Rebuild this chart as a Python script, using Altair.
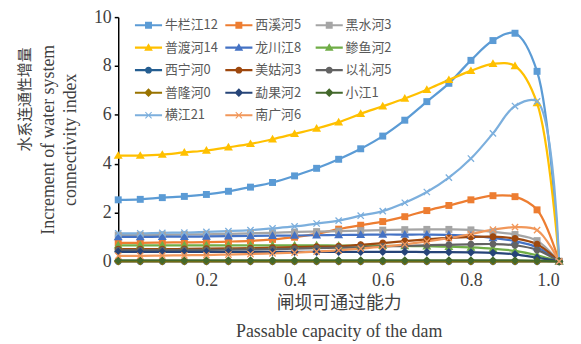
import altair as alt
import pandas as pd

# ---------------- data ----------------
x_vals = [0.0, 0.05, 0.1, 0.15, 0.2, 0.25, 0.3, 0.35, 0.4, 0.45, 0.5,
          0.55, 0.6, 0.65, 0.7, 0.75, 0.8, 0.85, 0.9, 0.95, 1.0]

series_names = ["牛栏江12", "西溪河5", "黑水河3", "普渡河14", "龙川江8", "鲹鱼河2",
                "西宁河0", "美姑河3", "以礼河5", "普隆河0", "勐果河2", "小江1",
                "横江21", "南广河6"]

niulanjiang = [2.52, 2.54, 2.61, 2.66, 2.74, 2.87, 3.04, 3.23, 3.50, 3.81, 4.18,
               4.61, 5.13, 5.78, 6.54, 7.29, 8.23, 9.04, 9.34, 7.78, 0.0]
xixihe = [0.76, 0.76, 0.77, 0.78, 0.79, 0.81, 0.84, 0.90, 0.99, 1.13, 1.32,
          1.48, 1.63, 1.83, 2.08, 2.29, 2.52, 2.69, 2.65, 2.11, 0.0]
heishuihe = [1.08, 1.08, 1.09, 1.10, 1.11, 1.13, 1.15, 1.17, 1.20, 1.22, 1.24,
             1.26, 1.28, 1.30, 1.31, 1.31, 1.29, 1.21, 1.10, 0.85, 0.0]
puduhe = [4.33, 4.33, 4.37, 4.46, 4.54, 4.67, 4.81, 5.00, 5.22, 5.44, 5.70,
          6.04, 6.35, 6.67, 7.03, 7.43, 7.80, 8.09, 8.00, 6.48, 0.0]
longchuanjiang = [1.00, 1.00, 1.01, 1.01, 1.02, 1.03, 1.04, 1.05, 1.06, 1.07, 1.08,
                  1.09, 1.10, 1.10, 1.10, 1.09, 1.05, 0.96, 0.83, 0.58, 0.0]
shenyuhe = [0.66, 0.66, 0.66, 0.66, 0.66, 0.66, 0.66, 0.66, 0.66, 0.66, 0.65,
            0.65, 0.64, 0.63, 0.62, 0.60, 0.57, 0.52, 0.43, 0.25, 0.0]
xininghe = [0.0] * 21
meiguhe = [0.50, 0.50, 0.50, 0.51, 0.52, 0.53, 0.54, 0.56, 0.58, 0.60, 0.62,
           0.68, 0.75, 0.83, 0.90, 0.96, 1.00, 1.01, 0.94, 0.70, 0.0]
yilihe = [0.46, 0.46, 0.46, 0.47, 0.47, 0.48, 0.49, 0.50, 0.52, 0.54, 0.56,
          0.58, 0.61, 0.63, 0.66, 0.68, 0.70, 0.71, 0.66, 0.47, 0.0]
punonghe = [0.0] * 21
mengguohe = [0.39, 0.39, 0.39, 0.39, 0.39, 0.39, 0.39, 0.39, 0.39, 0.39, 0.39,
             0.39, 0.39, 0.39, 0.38, 0.38, 0.37, 0.35, 0.29, 0.15, 0.0]
xiaojiang = [0.04, 0.04, 0.04, 0.04, 0.04, 0.04, 0.04, 0.04, 0.04, 0.04, 0.04,
             0.04, 0.04, 0.04, 0.04, 0.04, 0.04, 0.04, 0.04, 0.03, 0.0]
hengjiang = [1.15, 1.15, 1.17, 1.18, 1.21, 1.24, 1.28, 1.35, 1.43, 1.55, 1.67,
             1.87, 2.06, 2.40, 2.84, 3.43, 4.21, 5.24, 6.36, 6.55, 0.0]
nanguanghe = [0.23, 0.23, 0.24, 0.25, 0.26, 0.28, 0.30, 0.33, 0.36, 0.40, 0.45,
              0.52, 0.60, 0.70, 0.82, 0.95, 1.12, 1.30, 1.40, 1.28, 0.0]

series_values = [niulanjiang, xixihe, heishuihe, puduhe, longchuanjiang, shenyuhe,
                 xininghe, meiguhe, yilihe, punonghe, mengguohe, xiaojiang,
                 hengjiang, nanguanghe]

colors = ["#5B9BD5", "#ED7D31", "#A5A5A5", "#FFC000", "#4472C4", "#70AD47",
          "#255E91", "#9E480E", "#636363", "#997300", "#264478", "#43682B",
          "#7CAFDD", "#F1975A"]
marker_kind = ["square", "square", "square", "triangle", "triangle", "triangle",
               "circle", "circle", "circle", "diamond", "diamond", "diamond",
               "x", "x"]

x_ticks = [0.2, 0.4, 0.6, 0.8, 1.0]
y_ticks = [0, 2, 4, 6, 8, 10]

y_title_cn = "水系连通性增量"
y_title_en = ["Increment of water system", "connectivity index"]
x_title = ["闸坝可通过能力", "Passable capacity of the dam"]

rows = []
for name, vals in zip(series_names, series_values):
    for xv, yv in zip(x_vals, vals):
        rows.append({"series": name, "x": xv, "y": yv})
df = pd.DataFrame(rows)

# ---------------- marker shapes (all drawn clockwise) ----------------
P_SQUARE = "M-1,-1H1V1H-1Z"
P_TRI = "M0,-1.25L1.25,0.9H-1.25Z"
P_CIRCLE = "M-1,0A1,1 0 1,1 1,0A1,1 0 1,1 -1,0Z"
P_DIAMOND = "M0,-1.25L1.25,0L0,1.25L-1.25,0Z"
P_X_FILL = ("M-1,-0.8L-0.8,-1L0,-0.2L0.8,-1L1,-0.8L0.2,0L1,0.8L0.8,1"
            "L0,0.2L-0.8,1L-1,0.8L-0.2,0Z")
P_X_STROKE = "M-1,-1L1,1M-1,1L1,-1"
P_LINE = "M-3.9,-0.3H3.9V0.3H-3.9Z"
kind_path = {"square": P_SQUARE, "triangle": P_TRI, "circle": P_CIRCLE,
             "diamond": P_DIAMOND, "x": P_X_FILL}
legend_paths = [P_LINE + kind_path[k] for k in marker_kind]

serif = "Liberation Serif, Noto Sans CJK SC"
text_col = "#404040"

legend_obj = alt.Legend(
    title=None, orient="none", legendX=24, legendY=1.5, columns=3,
    direction="horizontal",
    columnPadding=3, rowPadding=7.7, gridAlign="all", symbolSize=49,
    labelFont="Noto Sans CJK SC", labelFontSize=13, labelColor="#595959",
    labelOffset=10, padding=0, symbolOpacity=1, labelLimit=200,
)

x_enc = alt.X("x:Q", scale=alt.Scale(domain=[0, 1], nice=False),
              axis=alt.Axis(values=x_ticks, format=".1f", grid=False, domain=False,
                            ticks=False, tickSize=0, labelPadding=10,
                            labelFont="Liberation Serif", labelFontSize=18,
                            labelColor=text_col,
                            title=x_title,
                            titleFont=serif, titleFontSize=18, titleFontWeight="normal",
                            titleColor=text_col, titleLineHeight=29, titlePadding=5))
y_enc = alt.Y("y:Q", scale=alt.Scale(domain=[0, 10], nice=False),
              axis=alt.Axis(values=y_ticks, grid=False, domain=True, domainColor="#000000",
                            domainWidth=1.5, ticks=True, tickColor="#000000", tickWidth=1.5,
                            tickSize=4, labelPadding=3, labelFont="Liberation Serif",
                            labelFontSize=18, labelColor=text_col,
                            title=y_title_en,
                            titleFont="Liberation Serif", titleFontSize=18,
                            titleFontWeight="normal",
                            titleColor=text_col, titleLineHeight=22, titlePadding=14))

color_scale = alt.Scale(domain=series_names, range=colors)

base = alt.Chart(df)

lines = base.mark_line(interpolate="catmull-rom", strokeWidth=2.25).encode(
    x=x_enc, y=y_enc,
    color=alt.Color("series:N", scale=color_scale, legend=None),
)

layers = [lines]
for kind, size in [("square", 49), ("triangle", 52), ("circle", 50), ("diamond", 46)]:
    names = [n for n, k in zip(series_names, marker_kind) if k == kind]
    layers.append(
        base.transform_filter(alt.FieldOneOfPredicate(field="series", oneOf=names))
        .mark_point(filled=True, shape=kind_path[kind], size=size, opacity=1)
        .encode(x="x:Q", y="y:Q",
                color=alt.Color("series:N", scale=color_scale, legend=None))
    )
x_names = [n for n, k in zip(series_names, marker_kind) if k == "x"]
layers.append(
    base.transform_filter(alt.FieldOneOfPredicate(field="series", oneOf=x_names))
    .mark_point(filled=False, shape=P_X_STROKE, size=40, strokeWidth=1.3, opacity=1)
    .encode(x="x:Q", y="y:Q",
            color=alt.Color("series:N", scale=color_scale, legend=None))
)

legend_layer = base.mark_point(filled=True, opacity=0, size=49).encode(
    x="x:Q", y="y:Q",
    color=alt.Color("series:N", scale=color_scale, legend=legend_obj),
    shape=alt.Shape("series:N", scale=alt.Scale(domain=series_names, range=legend_paths),
                    legend=legend_obj),
)
layers.append(legend_layer)

cn_title = alt.Chart(pd.DataFrame({"t": [y_title_cn]})).mark_text(
    angle=270, font="Noto Sans CJK SC", fontSize=15, color=text_col,
    align="center", baseline="middle",
).encode(text="t:N", x=alt.value(-94), y=alt.value(83))
layers.append(cn_title)

chart = alt.layer(*layers).resolve_legend(
    color="independent", shape="independent"
).properties(
    width=444, height=246,
    autosize=alt.AutoSizeParams(type="none"),
    padding={"left": 111, "top": 8, "right": 14, "bottom": 80},
    background="white",
).configure_view(stroke=None)

chart.save("out.html", embed_options={"renderer": "svg", "actions": False})
